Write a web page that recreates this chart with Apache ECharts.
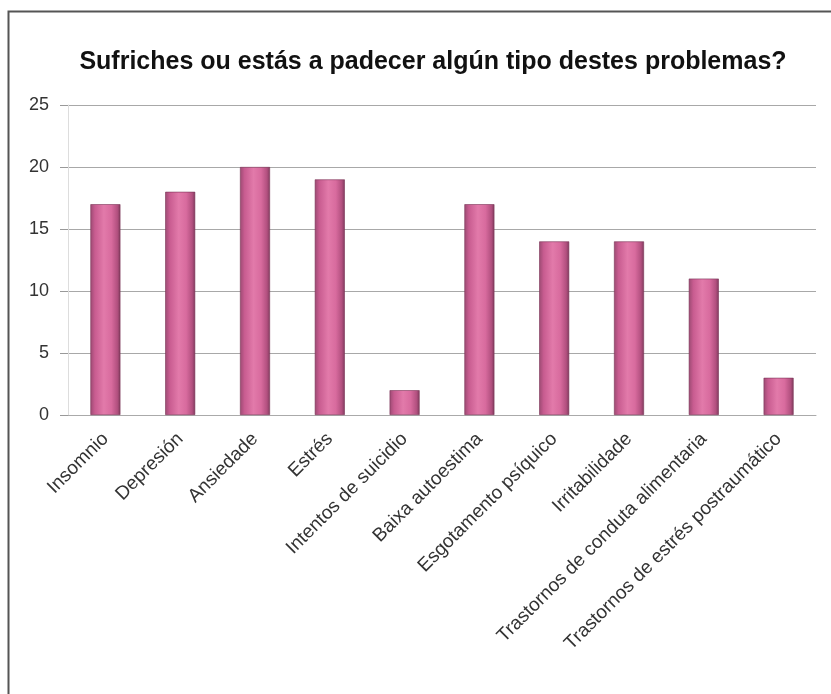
<!DOCTYPE html>
<html><head><meta charset="utf-8">
<script src="https://cdn.jsdelivr.net/npm/echarts@6/dist/echarts.min.js"></script>
<style>html,body{margin:0;padding:0;background:#fff}#c{width:831px;height:694px}</style>
</head><body><div id="c"></div>
<script>
const titleText = "Sufriches ou estás a padecer algún tipo destes problemas?";
const categories = ["Insomnio","Depresión","Ansiedade","Estrés","Intentos de suicidio","Baixa autoestima","Esgotamento psíquico","Irritabilidade","Trastornos de conduta alimentaria","Trastornos de estrés postraumático"];
const values = [17,18,20,19,2,17,14,14,11,3];
const yTicks = [0,5,10,15,20,25];

const chart = echarts.init(document.getElementById('c'));
chart.setOption({
  animation:false,
  backgroundColor:'#fff',
  title:{text:titleText,left:428,top:45,textAlign:'center',
    textStyle:{fontFamily:'Liberation Sans, Arial',fontSize:25,fontWeight:'bold',color:'#111'}},
  graphic:[{type:'polyline',shape:{points:[[8.5,694],[8.5,11.5],[831,11.5]]},style:{stroke:'#555',lineWidth:2,fill:null},silent:true}],
  grid:{left:68,right:15,top:105,bottom:279,containLabel:false},
  xAxis:{type:'category',data:categories,
    axisLine:{lineStyle:{color:'#aaa'}},axisTick:{show:false},
    axisLabel:{rotate:45,interval:0,fontFamily:'Liberation Sans, Arial',fontSize:19,color:'#333',margin:21}},
  yAxis:{type:'value',min:yTicks[0],max:yTicks[yTicks.length-1],interval:5,
    axisLine:{show:true,lineStyle:{color:'#ddd'}},
    axisTick:{show:true,length:8,lineStyle:{color:'#999'}},
    splitLine:{lineStyle:{color:'#a8a8a8'}},
    axisLabel:{fontFamily:'Liberation Sans, Arial',fontSize:18,color:'#333',margin:19}},
  series:[{type:'bar',data:values,barWidth:30,
    itemStyle:{borderColor:'#7a3355',borderWidth:0.6,
      color:new echarts.graphic.LinearGradient(0,0,1,0,[
        {offset:0,color:'#9b4a72'},{offset:0.15,color:'#c85c90'},{offset:0.45,color:'#e27aaa'},
        {offset:0.7,color:'#d86b9e'},{offset:0.9,color:'#b2507f'},{offset:1,color:'#7e3a5c'}])}}]
});
</script></body></html>
